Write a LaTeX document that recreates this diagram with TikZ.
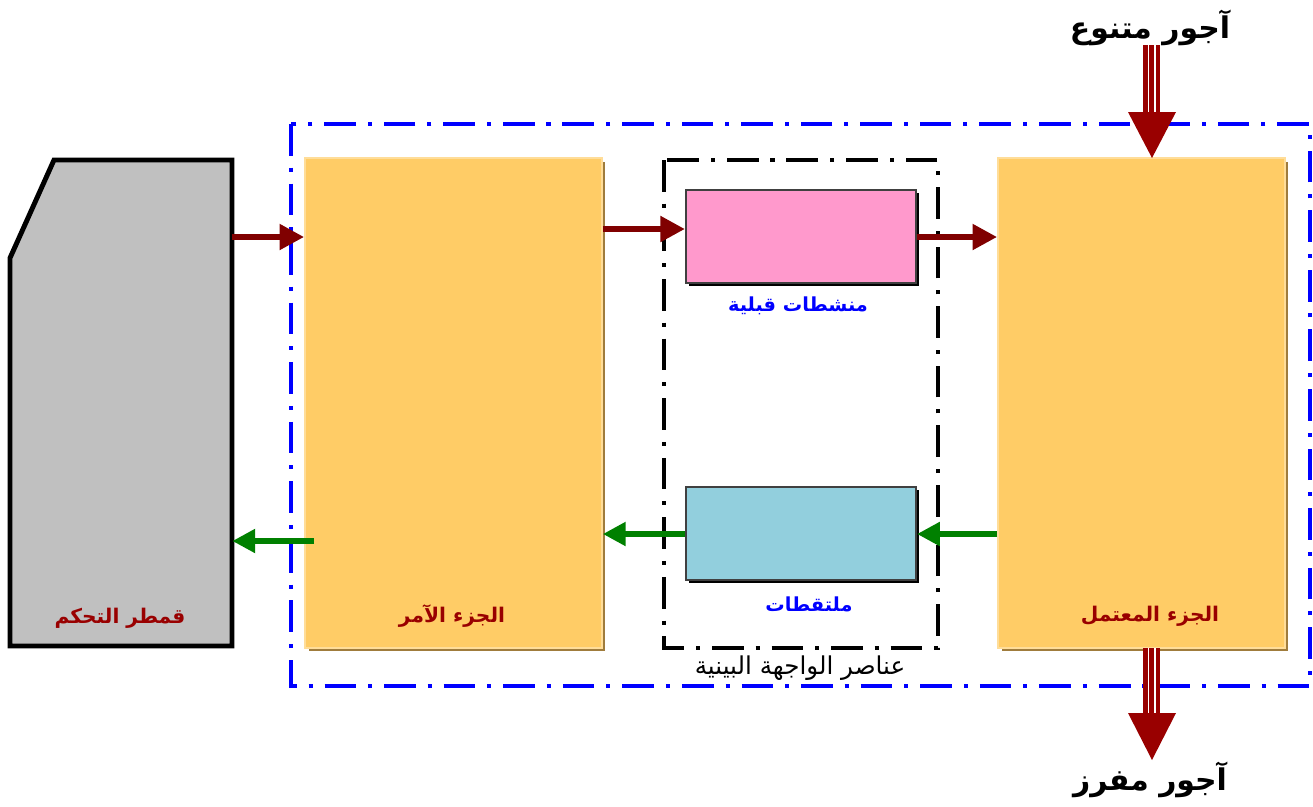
\documentclass[tikz,border=0pt]{standalone}
\usepackage{fontspec}
\TeXXeTstate=1
\newfontfamily\arabicfont[Script=Arabic]{DejaVu Sans}
\usetikzlibrary{arrows.meta,shadows}
\definecolor{boxyellow}{HTML}{FFCC66}
\definecolor{boxedge}{HTML}{FFDD99}
\definecolor{boxshadow}{HTML}{A07C3C}
\definecolor{ctrlgray}{HTML}{C0C0C0}
\definecolor{pinkbox}{HTML}{FF99CC}
\definecolor{cyanbox}{HTML}{92CFDD}
\definecolor{maroon}{HTML}{800000}
\definecolor{labelred}{HTML}{990000}
\definecolor{arrowred}{HTML}{990000}
\definecolor{arrowgreen}{HTML}{008000}
\definecolor{labelblue}{HTML}{0000FF}
\begin{document}
\begin{tikzpicture}[x=0.02cm,y=-0.02cm,
  ybox/.style={rectangle, fill=boxyellow, draw=boxedge, line width=1pt,
    drop shadow={shadow xshift=0.07cm, shadow yshift=-0.07cm, fill=boxshadow, opacity=1}},
  ibox/.style={rectangle, draw=black!75, line width=1.2pt, minimum width=4.6cm, minimum height=1.86cm,
    drop shadow={shadow xshift=0.06cm, shadow yshift=-0.06cm, fill=black, opacity=1}},
  ghost/.style={rectangle, draw=none, inner sep=0pt},
  redlbl/.style={text=labelred, font=\arabicfont\bfseries\fontsize{11.5}{13}\selectfont, inner sep=0pt},
  bluelbl/.style={text=labelblue, font=\arabicfont\bfseries\fontsize{11}{13}\selectfont, inner sep=0pt},
  blklbl/.style={text=black, font=\arabicfont\fontsize{14}{16}\selectfont, inner sep=0pt},
  biglbl/.style={text=black, font=\arabicfont\bfseries\fontsize{17}{20}\selectfont, inner sep=0pt},
  redarrow/.style={draw=maroon, line width=3.8pt, -{Triangle[length=14pt,width=14pt]}},
  greenarrow/.style={draw=arrowgreen, line width=3.2pt, -{Triangle[length=13pt,width=13pt]}},
  bluedashdot/.style={draw=blue, line width=2pt, dash pattern=on 18pt off 6.8pt on 2.3pt off 6.8pt},
  blackdashdot/.style={draw=black, line width=2pt, dash pattern=on 18pt off 6.8pt on 2.3pt off 6.8pt},
]
\useasboundingbox (0,0) rectangle (1313,806);

% outer frame
\draw[bluedashdot] (291,124) rectangle (1310,686);

% control cabinet
\draw[fill=ctrlgray, draw=black, line width=2.8pt, line join=miter] (10,258) -- (54,160) -- (232,160) -- (232,646) -- (10,646) -- cycle;
\node[ghost, minimum width=4.44cm, minimum height=9.72cm] (ctrl) at (121,403) {};
\node[redlbl] (ctrll) at (120,618) {\beginR قمطر التحكم\endR};

% command part
\node[ybox, minimum width=5.94cm, minimum height=9.8cm] (amr) at (453.5,403) {};
\node[redlbl] (amrl) at (452,616) {\beginR الجزء الآمر\endR};

% operative part
\node[ybox, minimum width=5.74cm, minimum height=9.8cm] (work) at (1141.5,403) {};
\node[redlbl] (workl) at (1150,616) {\beginR الجزء المعتمل\endR};

% interface frame
\draw[blackdashdot] (664,160) rectangle (938,648);
\node[ghost, minimum width=5.48cm, minimum height=9.76cm] (iface) at (801,404) {};
\node[blklbl] (ifacel) at (800,668) {\beginR عناصر الواجهة البينية\endR};

% pre-actuators and sensors
\node[ibox, fill=pinkbox] (act) at (801,236.5) {};
\node[bluelbl] (actl) at (798,306) {\beginR منشطات قبلية\endR};
\node[ibox, fill=cyanbox] (sens) at (801,533.5) {};
\node[bluelbl] (sensl) at (809,604) {\beginR ملتقطات\endR};

% order arrows
\draw[redarrow] (ctrl.east |- 0,237) -- (amr.west |- 0,237);
\draw[redarrow] (amr.east |- 0,229) -- (act.west |- 0,229);
\draw[redarrow] (act.east |- 0,237) -- (work.west |- 0,237);

% report arrows
\draw[greenarrow] (work.west |- 0,534) -- (sens.east |- 0,534);
\draw[greenarrow] (sens.west |- 0,534) -- (amr.east |- 0,534);
\draw[greenarrow] ([xshift=0.2cm]amr.west |- 0,541) -- (ctrl.east |- 0,541);

% raw material in
\coordinate (inTop) at (1152,45);
\coordinate (inTip) at (1152,158);
\fill[arrowred] (1143,45) rectangle (1160,114);
\draw[white, line width=0.8pt] (1148.5,45) -- (1148.5,114) (1155,45) -- (1155,114);
\fill[arrowred] (1128,112) -- (1176,112) -- (inTip) -- cycle;
\node[biglbl] (inl) at (1150,28) {\beginR آجور متنوع\endR};

% finished product out
\coordinate (outTop) at (1152,648);
\coordinate (outTip) at (1152,760);
\fill[arrowred] (1143,648) rectangle (1160,715);
\draw[white, line width=0.8pt] (1148.5,648) -- (1148.5,715) (1155,648) -- (1155,715);
\fill[arrowred] (1128,713) -- (1176,713) -- (outTip) -- cycle;
\node[biglbl] (outl) at (1150,780) {\beginR آجور مفرز\endR};
\end{tikzpicture}
\end{document}
